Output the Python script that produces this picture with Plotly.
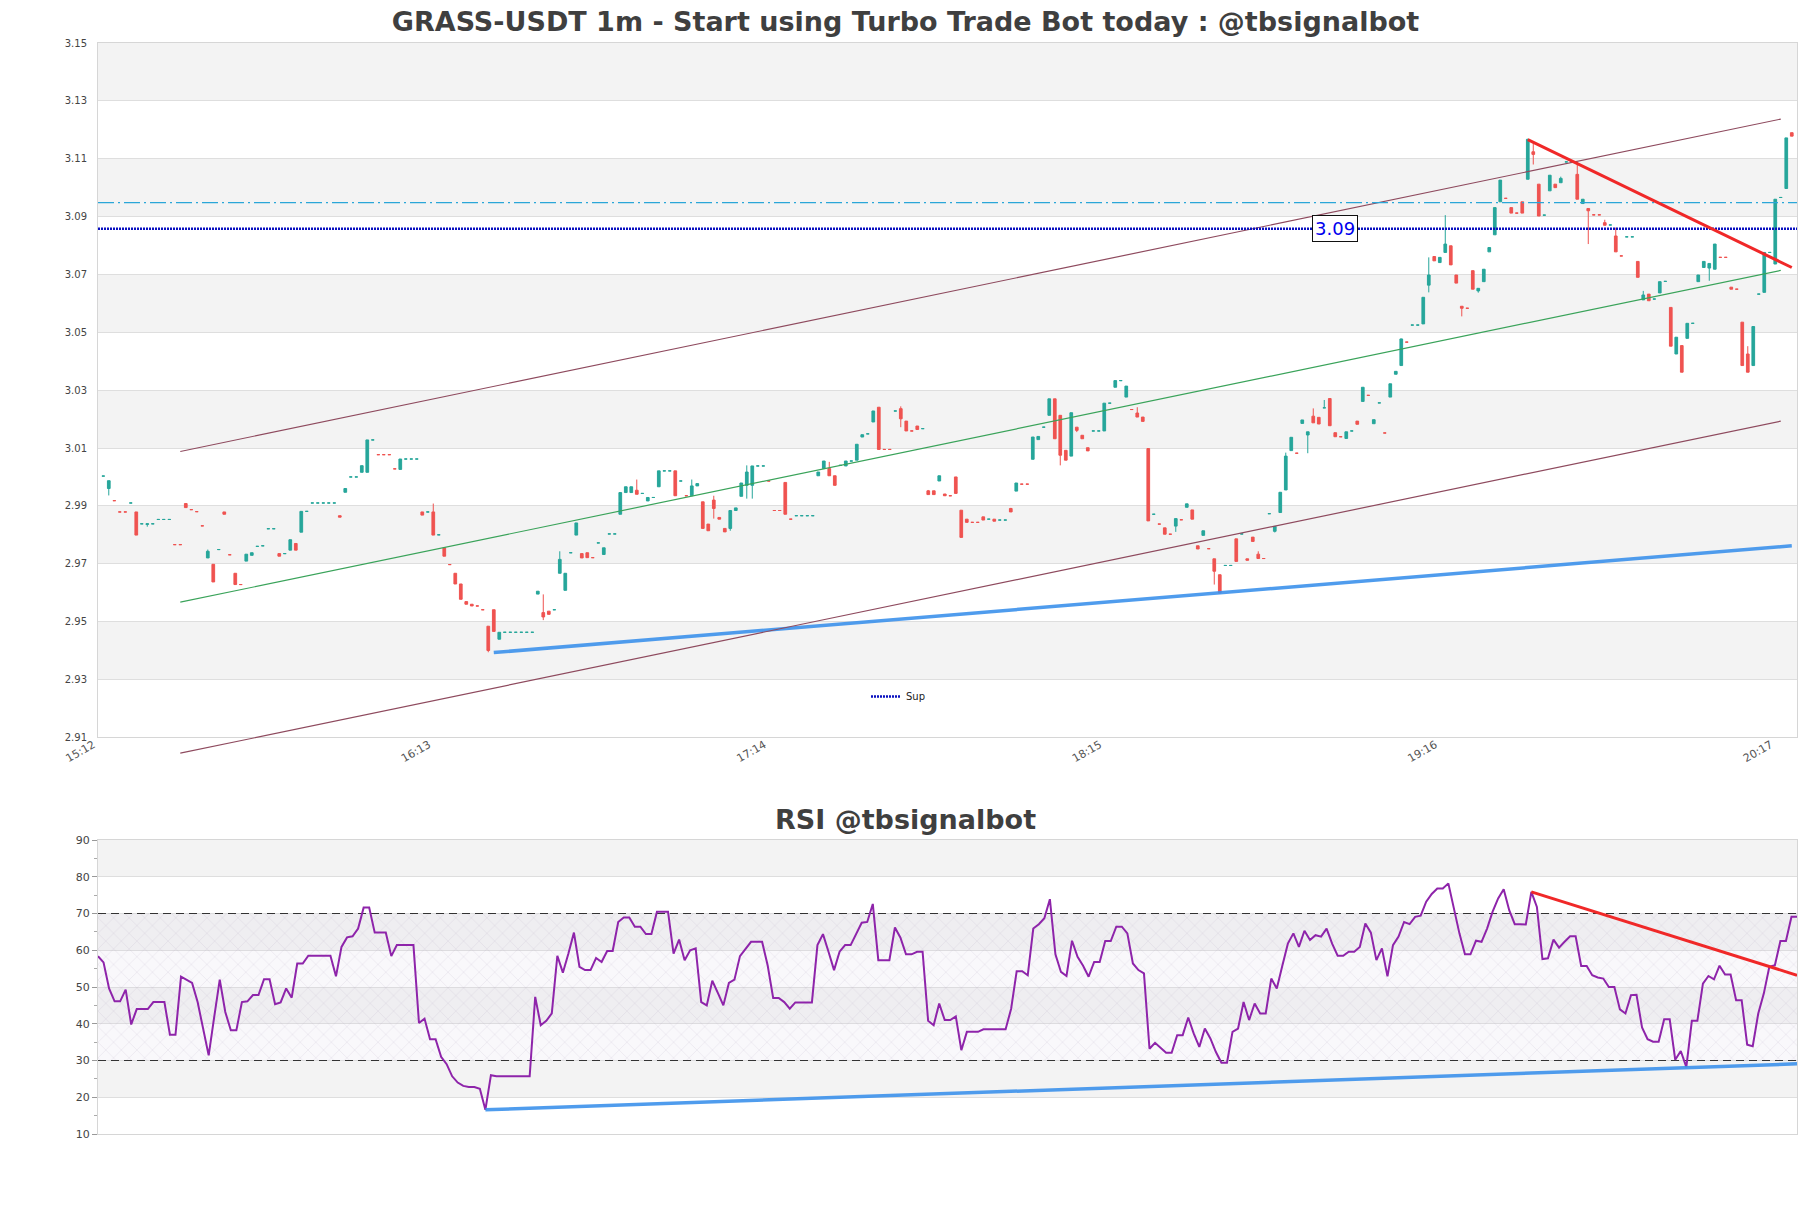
import plotly.graph_objects as go

# ---------------- data ----------------
tick_labels = ["15:12", "16:13", "17:14", "18:15", "19:16", "20:17"]
tick_positions = [0, 61, 122, 183, 244, 305]

opens = [
    3.0003, 2.9960, 2.9918, 2.9879, 2.9879, 2.9910, 2.9879, 2.9838, 2.9836, 2.9838,
    2.9853, 2.9853, 2.9853, 2.9766, 2.9766, 2.9908, 2.9887, 2.9880, 2.9831, 2.9720,
    2.9698, 2.9749, 2.9879, 2.9731, 2.9667, 2.9628, 2.9709, 2.9729, 2.9760, 2.9762,
    2.9821, 2.9821, 2.9735, 2.9735, 2.9747, 2.9770, 2.9809, 2.9881, 2.9910, 2.9910,
    2.9910, 2.9910, 2.9910, 2.9866, 2.9947, 3.0000, 3.0000, 3.0016, 3.0016, 3.0128,
    3.0077, 3.0077, 3.0077, 3.0028, 3.0026, 3.0062, 3.0062, 3.0062, 2.9879, 2.9879,
    2.9879, 2.9800, 2.9755, 2.9697, 2.9667, 2.9630, 2.9569, 2.9560, 2.9554, 2.9541,
    2.9484, 2.9541, 2.9439, 2.9463, 2.9463, 2.9463, 2.9463, 2.9463, 2.9463, 2.9595,
    2.9531, 2.9536, 2.9541, 2.9667, 2.9608, 2.9738, 2.9799, 2.9735, 2.9738, 2.9721,
    2.9772, 2.9732, 2.9803, 2.9803, 2.9871, 2.9946, 2.9946, 2.9954, 2.9943, 2.9917,
    2.9929, 2.9966, 3.0021, 3.0021, 3.0021, 2.9986, 2.9935, 2.9935, 2.9969, 2.9914,
    2.9837, 2.9920, 2.9860, 2.9822, 2.9822, 2.9884, 2.9933, 2.9971, 2.9971, 3.0038,
    3.0038, 2.9986, 2.9884, 2.9884, 2.9981, 2.9854, 2.9866, 2.9866, 2.9866, 2.9866,
    3.0004, 3.0029, 3.0029, 3.0004, 3.0040, 3.0038, 3.0055, 3.0058, 3.0138, 3.0149,
    3.0190, 3.0241, 3.0095, 3.0095, 3.0228, 3.0236, 3.0193, 3.0159, 3.0176, 3.0167,
    2.9952, 2.9952, 2.9986, 2.9941, 2.9935, 3.0000, 2.9885, 2.9854, 2.9843, 2.9843,
    2.9862, 2.9854, 2.9854, 2.9851, 2.9851, 2.9891, 2.9951, 2.9975, 2.9975, 3.0061,
    3.0129, 3.0172, 3.0213, 3.0270, 3.0213, 3.0092, 3.0072, 3.0172, 3.0144, 3.0101,
    3.0159, 3.0159, 3.0159, 3.0255, 3.0310, 3.0333, 3.0276, 3.0233, 3.0221, 3.0207,
    3.0098, 2.9871, 2.9837, 2.9824, 2.9802, 2.9830, 2.9852, 2.9895, 2.9886, 2.9762,
    2.9798, 2.9752, 2.9717, 2.9662, 2.9694, 2.9694, 2.9786, 2.9803, 2.9717, 2.9792,
    2.9733, 2.9718, 2.9873, 2.9812, 2.9877, 2.9955, 3.0091, 3.0082, 3.0185, 3.0145,
    3.0210, 3.0206, 3.0239, 3.0271, 3.0153, 3.0139, 3.0133, 3.0159, 3.0193, 3.0261,
    3.0282, 3.0184, 3.0256, 3.0152, 3.0276, 3.0355, 3.0385, 3.0466, 3.0525, 3.0525,
    3.0529, 3.0663, 3.0762, 3.0741, 3.0776, 3.0799, 3.0698, 3.0590, 3.0583, 3.0713,
    3.0643, 3.0675, 3.0778, 3.0837, 3.0951, 3.0963, 3.0931, 3.0912, 3.0951, 3.1029,
    3.1124, 3.1012, 3.0905, 3.0989, 3.1012, 3.1017, 3.1089, 3.1089, 3.1046, 3.0945,
    3.0928, 3.0906, 3.0906, 3.0879, 3.0871, 3.0833, 3.0764, 3.0830, 3.0830, 3.0745,
    3.0612, 3.0632, 3.0615, 3.0636, 3.0676, 3.0586, 3.0425, 3.0454, 3.0479, 3.0531,
    3.0675, 3.0724, 3.0722, 3.0718, 3.0759, 3.0759, 3.0656, 3.0649, 3.0535, 3.0425,
    3.0385, 3.0632, 3.0638, 3.0776, 3.0736, 3.0966, 3.0997, 3.1190,
]

highs = [
    3.0003, 2.9987, 2.9918, 2.9879, 2.9879, 2.9910, 2.9879, 2.9838, 2.9838, 2.9838,
    2.9853, 2.9853, 2.9853, 2.9766, 2.9766, 2.9908, 2.9887, 2.9880, 2.9831, 2.9749,
    2.9698, 2.9749, 2.9879, 2.9731, 2.9667, 2.9628, 2.9733, 2.9738, 2.9760, 2.9762,
    2.9821, 2.9821, 2.9735, 2.9735, 2.9783, 2.9770, 2.9881, 2.9881, 2.9910, 2.9910,
    2.9910, 2.9910, 2.9910, 2.9866, 2.9960, 3.0000, 3.0000, 3.0039, 3.0128, 3.0128,
    3.0077, 3.0077, 3.0077, 3.0028, 3.0062, 3.0062, 3.0062, 3.0062, 2.9879, 2.9879,
    2.9908, 2.9800, 2.9755, 2.9697, 2.9667, 2.9630, 2.9569, 2.9560, 2.9554, 2.9541,
    2.9484, 2.9541, 2.9463, 2.9463, 2.9463, 2.9463, 2.9463, 2.9463, 2.9463, 2.9605,
    2.9594, 2.9536, 2.9541, 2.9743, 2.9667, 2.9738, 2.9841, 2.9735, 2.9738, 2.9721,
    2.9772, 2.9755, 2.9803, 2.9803, 2.9946, 2.9966, 2.9966, 2.9991, 2.9943, 2.9929,
    2.9929, 3.0021, 3.0021, 3.0021, 3.0021, 2.9986, 2.9935, 2.9991, 2.9977, 2.9914,
    2.9837, 2.9935, 2.9860, 2.9822, 2.9884, 2.9893, 2.9979, 3.0040, 3.0038, 3.0038,
    3.0038, 2.9986, 2.9884, 2.9884, 2.9981, 2.9854, 2.9866, 2.9866, 2.9866, 2.9866,
    3.0017, 3.0055, 3.0052, 3.0004, 3.0040, 3.0055, 3.0055, 3.0113, 3.0146, 3.0149,
    3.0228, 3.0241, 3.0095, 3.0095, 3.0228, 3.0244, 3.0193, 3.0159, 3.0176, 3.0167,
    2.9955, 2.9952, 3.0004, 2.9941, 2.9935, 3.0000, 2.9885, 2.9854, 2.9843, 2.9843,
    2.9862, 2.9854, 2.9854, 2.9851, 2.9851, 2.9893, 2.9979, 2.9975, 2.9975, 3.0138,
    3.0140, 3.0172, 3.0270, 3.0270, 3.0213, 3.0092, 3.0222, 3.0172, 3.0144, 3.0101,
    3.0159, 3.0159, 3.0255, 3.0255, 3.0333, 3.0333, 3.0314, 3.0233, 3.0241, 3.0207,
    3.0098, 2.9871, 2.9837, 2.9824, 2.9802, 2.9856, 2.9852, 2.9907, 2.9886, 2.9762,
    2.9814, 2.9752, 2.9717, 2.9662, 2.9694, 2.9694, 2.9786, 2.9803, 2.9717, 2.9792,
    2.9743, 2.9718, 2.9873, 2.9829, 2.9947, 3.0084, 3.0137, 3.0082, 3.0197, 3.0156,
    3.0237, 3.0206, 3.0266, 3.0271, 3.0153, 3.0139, 3.0156, 3.0159, 3.0193, 3.0310,
    3.0282, 3.0198, 3.0256, 3.0152, 3.0322, 3.0365, 3.0478, 3.0466, 3.0525, 3.0525,
    3.0621, 3.0759, 3.0762, 3.0759, 3.0905, 3.0799, 3.0698, 3.0590, 3.0583, 3.0713,
    3.0652, 3.0718, 3.0793, 3.0931, 3.1026, 3.0963, 3.0931, 3.0912, 3.0951, 3.1169,
    3.1155, 3.1012, 3.0905, 3.1043, 3.1012, 3.1038, 3.1089, 3.1089, 3.1089, 3.0960,
    3.0928, 3.0906, 3.0906, 3.0889, 3.0871, 3.0862, 3.0764, 3.0830, 3.0830, 3.0745,
    3.0643, 3.0632, 3.0615, 3.0675, 3.0676, 3.0586, 3.0483, 3.0454, 3.0531, 3.0531,
    3.0698, 3.0745, 3.0738, 3.0805, 3.0759, 3.0759, 3.0656, 3.0649, 3.0535, 3.0452,
    3.0520, 3.0632, 3.0776, 3.0776, 3.0960, 3.0966, 3.1172, 3.1190,
]

lows = [
    3.0003, 2.9936, 2.9918, 2.9879, 2.9879, 2.9910, 2.9799, 2.9838, 2.9828, 2.9838,
    2.9853, 2.9853, 2.9853, 2.9766, 2.9766, 2.9894, 2.9887, 2.9880, 2.9831, 2.9720,
    2.9637, 2.9749, 2.9871, 2.9731, 2.9628, 2.9628, 2.9709, 2.9729, 2.9760, 2.9762,
    2.9821, 2.9821, 2.9726, 2.9735, 2.9747, 2.9747, 2.9809, 2.9881, 2.9910, 2.9910,
    2.9910, 2.9910, 2.9910, 2.9861, 2.9947, 3.0000, 3.0000, 3.0016, 3.0016, 3.0128,
    3.0077, 3.0077, 3.0077, 3.0028, 3.0026, 3.0062, 3.0062, 3.0062, 2.9868, 2.9879,
    2.9799, 2.9800, 2.9726, 2.9697, 2.9630, 2.9577, 2.9560, 2.9554, 2.9554, 2.9541,
    2.9394, 2.9466, 2.9439, 2.9463, 2.9463, 2.9463, 2.9463, 2.9463, 2.9463, 2.9595,
    2.9505, 2.9525, 2.9541, 2.9667, 2.9608, 2.9738, 2.9799, 2.9720, 2.9721, 2.9721,
    2.9772, 2.9732, 2.9803, 2.9803, 2.9871, 2.9946, 2.9946, 2.9940, 2.9943, 2.9917,
    2.9929, 2.9966, 3.0021, 3.0021, 2.9935, 2.9986, 2.9935, 2.9935, 2.9969, 2.9822,
    2.9814, 2.9856, 2.9854, 2.9810, 2.9814, 2.9884, 2.9933, 2.9925, 2.9925, 3.0038,
    3.0038, 2.9986, 2.9884, 2.9884, 2.9871, 2.9854, 2.9866, 2.9866, 2.9866, 2.9866,
    3.0004, 3.0029, 3.0004, 2.9971, 3.0040, 3.0038, 3.0055, 3.0058, 3.0138, 3.0149,
    3.0190, 3.0095, 3.0095, 3.0095, 3.0228, 3.0172, 3.0159, 3.0159, 3.0164, 3.0167,
    2.9939, 2.9939, 2.9986, 2.9935, 2.9935, 2.9943, 2.9791, 2.9843, 2.9843, 2.9843,
    2.9851, 2.9854, 2.9847, 2.9851, 2.9851, 2.9879, 2.9951, 2.9975, 2.9975, 3.0061,
    3.0129, 3.0172, 3.0213, 3.0132, 3.0040, 3.0058, 3.0072, 3.0155, 3.0132, 3.0090,
    3.0159, 3.0159, 3.0159, 3.0255, 3.0310, 3.0333, 3.0276, 3.0233, 3.0207, 3.0192,
    2.9848, 2.9871, 2.9837, 2.9802, 2.9802, 2.9810, 2.9852, 2.9895, 2.9854, 2.9751,
    2.9798, 2.9752, 2.9628, 2.9598, 2.9694, 2.9694, 2.9708, 2.9803, 2.9712, 2.9777,
    2.9718, 2.9718, 2.9873, 2.9808, 2.9877, 2.9955, 3.0091, 3.0082, 3.0185, 3.0082,
    3.0187, 3.0183, 3.0239, 3.0177, 3.0139, 3.0139, 3.0133, 3.0159, 3.0182, 3.0261,
    3.0282, 3.0184, 3.0256, 3.0152, 3.0276, 3.0355, 3.0385, 3.0466, 3.0525, 3.0525,
    3.0529, 3.0638, 3.0747, 3.0741, 3.0776, 3.0733, 3.0670, 3.0555, 3.0583, 3.0649,
    3.0637, 3.0675, 3.0778, 3.0837, 3.0951, 3.0963, 3.0912, 3.0912, 3.0912, 3.1029,
    3.1080, 3.0902, 3.0905, 3.0989, 3.1000, 3.1017, 3.1089, 3.1089, 3.0960, 3.0945,
    3.0805, 3.0906, 3.0906, 3.0870, 3.0871, 3.0778, 3.0764, 3.0830, 3.0830, 3.0690,
    3.0612, 3.0609, 3.0615, 3.0636, 3.0676, 3.0452, 3.0425, 3.0362, 3.0479, 3.0531,
    3.0675, 3.0724, 3.0678, 3.0718, 3.0759, 3.0759, 3.0649, 3.0649, 3.0385, 3.0362,
    3.0385, 3.0632, 3.0638, 3.0776, 3.0736, 3.0966, 3.0997, 3.1178,
]

closes = [
    3.0003, 2.9987, 2.9918, 2.9879, 2.9879, 2.9910, 2.9799, 2.9838, 2.9838, 2.9838,
    2.9853, 2.9853, 2.9853, 2.9766, 2.9766, 2.9894, 2.9887, 2.9880, 2.9831, 2.9743,
    2.9637, 2.9749, 2.9871, 2.9731, 2.9628, 2.9628, 2.9733, 2.9738, 2.9760, 2.9762,
    2.9821, 2.9821, 2.9726, 2.9735, 2.9783, 2.9747, 2.9881, 2.9881, 2.9910, 2.9910,
    2.9910, 2.9910, 2.9910, 2.9861, 2.9960, 3.0000, 3.0000, 3.0039, 3.0128, 3.0128,
    3.0077, 3.0077, 3.0077, 3.0028, 3.0062, 3.0062, 3.0062, 3.0062, 2.9868, 2.9879,
    2.9799, 2.9800, 2.9726, 2.9697, 2.9630, 2.9577, 2.9560, 2.9554, 2.9554, 2.9541,
    2.9400, 2.9466, 2.9463, 2.9463, 2.9463, 2.9463, 2.9463, 2.9463, 2.9463, 2.9605,
    2.9516, 2.9525, 2.9541, 2.9715, 2.9667, 2.9738, 2.9841, 2.9720, 2.9721, 2.9721,
    2.9772, 2.9755, 2.9803, 2.9803, 2.9946, 2.9966, 2.9966, 2.9940, 2.9943, 2.9929,
    2.9929, 3.0021, 3.0021, 3.0021, 2.9935, 2.9986, 2.9935, 2.9969, 2.9977, 2.9822,
    2.9814, 2.9891, 2.9854, 2.9810, 2.9884, 2.9893, 2.9979, 3.0017, 3.0038, 3.0038,
    3.0038, 2.9986, 2.9884, 2.9884, 2.9871, 2.9854, 2.9866, 2.9866, 2.9866, 2.9866,
    3.0017, 3.0055, 3.0004, 2.9971, 3.0040, 3.0055, 3.0055, 3.0113, 3.0146, 3.0149,
    3.0228, 3.0095, 3.0095, 3.0095, 3.0228, 3.0201, 3.0159, 3.0159, 3.0164, 3.0167,
    2.9939, 2.9939, 3.0004, 2.9935, 2.9935, 2.9943, 2.9791, 2.9843, 2.9843, 2.9843,
    2.9851, 2.9854, 2.9847, 2.9851, 2.9851, 2.9879, 2.9979, 2.9975, 2.9975, 3.0138,
    3.0140, 3.0172, 3.0270, 3.0132, 3.0075, 3.0058, 3.0222, 3.0161, 3.0132, 3.0090,
    3.0159, 3.0159, 3.0255, 3.0255, 3.0333, 3.0333, 3.0314, 3.0233, 3.0207, 3.0192,
    2.9848, 2.9871, 2.9837, 2.9802, 2.9802, 2.9856, 2.9852, 2.9907, 2.9854, 2.9751,
    2.9814, 2.9752, 2.9674, 2.9599, 2.9694, 2.9694, 2.9708, 2.9803, 2.9712, 2.9777,
    2.9718, 2.9718, 2.9873, 2.9829, 2.9947, 3.0072, 3.0137, 3.0082, 3.0197, 3.0156,
    3.0187, 3.0183, 3.0239, 3.0177, 3.0139, 3.0139, 3.0156, 3.0159, 3.0182, 3.0310,
    3.0282, 3.0198, 3.0256, 3.0152, 3.0322, 3.0365, 3.0477, 3.0466, 3.0525, 3.0525,
    3.0621, 3.0698, 3.0747, 3.0759, 3.0805, 3.0733, 3.0670, 3.0583, 3.0583, 3.0649,
    3.0652, 3.0718, 3.0793, 3.0931, 3.1026, 3.0963, 3.0912, 3.0912, 3.0912, 3.1167,
    3.1115, 3.0902, 3.0905, 3.1043, 3.1000, 3.1032, 3.1089, 3.1089, 3.0960, 3.0960,
    3.0920, 3.0906, 3.0906, 3.0870, 3.0871, 3.0778, 3.0764, 3.0830, 3.0830, 3.0690,
    3.0629, 3.0609, 3.0615, 3.0675, 3.0676, 3.0452, 3.0483, 3.0362, 3.0531, 3.0531,
    3.0698, 3.0745, 3.0738, 3.0805, 3.0759, 3.0759, 3.0649, 3.0649, 3.0385, 3.0362,
    3.0520, 3.0632, 3.0776, 3.0776, 3.0960, 3.0966, 3.1172, 3.1178,
]

rsi_values = [
    58.4, 56.7, 49.6, 46.1, 46.1, 49.3, 39.8, 44.0, 44.0, 44.0,
    45.9, 45.9, 45.9, 37.0, 37.0, 52.8, 52.0, 51.1, 45.9, 38.2,
    31.4, 41.9, 52.0, 43.2, 38.2, 38.2, 45.9, 46.1, 47.8, 47.8,
    52.1, 52.1, 45.3, 45.8, 49.6, 47.1, 56.4, 56.4, 58.5, 58.5,
    58.5, 58.5, 58.5, 52.9, 60.9, 63.5, 63.8, 65.9, 71.6, 71.6,
    64.8, 64.8, 64.8, 58.4, 61.4, 61.4, 61.4, 61.4, 40.2, 41.4,
    35.8, 35.8, 31.0, 29.0, 25.7, 24.0, 23.1, 22.8, 22.8, 22.3,
    16.6, 26.0, 25.7, 25.7, 25.7, 25.7, 25.7, 25.7, 25.7, 47.3,
    39.6, 40.8, 42.8, 58.5, 53.9, 59.1, 64.8, 55.5, 54.6, 54.6,
    57.9, 56.8, 59.8, 59.8, 67.7, 68.9, 68.9, 66.4, 66.4, 64.4,
    64.4, 70.5, 70.5, 70.5, 59.1, 62.9, 57.3, 60.0, 60.5, 45.9,
    45.0, 51.7, 48.4, 45.0, 51.1, 52.0, 58.4, 60.5, 62.3, 62.3,
    62.3, 55.9, 47.0, 47.0, 45.9, 44.1, 45.8, 45.8, 45.8, 45.8,
    61.4, 64.4, 59.6, 54.6, 59.6, 61.4, 61.4, 64.6, 67.5, 67.7,
    72.6, 57.3, 57.3, 57.3, 66.2, 63.4, 58.9, 58.9, 59.6, 59.6,
    40.8, 39.6, 45.5, 41.0, 41.0, 42.0, 32.8, 37.8, 37.8, 37.8,
    38.5, 38.5, 38.5, 38.5, 38.5, 44.1, 54.3, 54.3, 53.2, 65.9,
    67.1, 68.7, 73.9, 58.9, 54.1, 53.0, 62.6, 58.2, 55.8, 52.8,
    56.8, 56.8, 62.5, 62.5, 66.4, 66.4, 64.6, 56.4, 54.6, 53.7,
    33.2, 34.8, 33.5, 32.1, 32.1, 36.9, 36.9, 41.7, 37.3, 33.7,
    38.7, 36.0, 32.3, 29.4, 29.4, 37.8, 38.7, 45.9, 41.0, 45.5,
    42.8, 42.8, 52.3, 49.6, 55.8, 61.8, 64.6, 60.9, 65.3, 62.8,
    64.1, 63.7, 65.9, 61.8, 58.5, 58.5, 59.6, 59.6, 60.9, 67.3,
    64.8, 57.3, 60.5, 52.9, 61.4, 63.7, 67.7, 67.1, 69.1, 69.4,
    73.2, 75.3, 76.8, 76.8, 78.2, 70.9, 64.6, 58.9, 58.9, 62.6,
    62.3, 65.9, 70.5, 74.1, 76.6, 70.9, 67.1, 67.1, 67.0, 75.9,
    71.8, 57.6, 57.8, 62.9, 60.7, 62.3, 63.8, 63.8, 55.7, 55.7,
    53.2, 52.6, 52.3, 50.0, 50.0, 43.9, 42.8, 47.8, 47.9, 39.0,
    35.8, 35.1, 35.1, 41.2, 41.2, 30.2, 32.6, 28.2, 40.8, 40.8,
    50.9, 53.0, 52.1, 55.8, 53.4, 53.4, 46.4, 46.4, 34.3, 33.9,
    42.8, 48.2, 55.5, 55.9, 62.5, 62.5, 69.1, 69.1,
]

# trend / channel lines: (start index, end index), (start value, end value)
channel_x = [14, 305]
channel_upper = [3.0088, 3.1237]
channel_mid = [2.9567, 3.0714]
channel_lower = [2.9045, 3.0193]
support_x = [71, 307]
support_y = [2.9393, 2.9762]
resist_x = [259, 307]
resist_y = [3.1166, 3.0724]
sup_level = 3.0858
dash_level = 3.0948
sup_label = "3.09"
sup_label_x = 224

rsi_support_x = [70, 307]
rsi_support_y = [16.6, 29.1]
rsi_resist_x = [259, 307]
rsi_resist_y = [75.9, 53.2]

price_ticks = [2.91, 2.93, 2.95, 2.97, 2.99, 3.01, 3.03, 3.05, 3.07, 3.09, 3.11, 3.13, 3.15]
rsi_ticks = [10, 20, 30, 40, 50, 60, 70, 80, 90]

# ---------------- styling ----------------
GREEN = "#26a69a"
RED = "#ef5350"
BAND = "#f3f3f3"
GRID = "#dedede"
AXLINE = "#d6d6d6"
CHANNEL = "#8e4a5e"
FONT = "DejaVu Sans"
TXT = "#444444"

n = len(closes)
idx = list(range(n))
x_lo, x_hi = -0.96, 307.95
p_lo, p_hi = price_ticks[0], price_ticks[-1]

W, H = 1811, 1208
ml, mr, mt, mb = 98, 14, 43, 74
ph = H - mt - mb


def pyf(px):
    return (H - mb - px) / ph


price_dom = [pyf(737.3), 1.0]


def price_to_paper(p):
    # position on the paper of a price, through the price axis' domain and range
    return price_dom[0] + (p - p_lo) / (p_hi - p_lo) * (price_dom[1] - price_dom[0])


fig = go.Figure()

fig.add_trace(go.Candlestick(
    x=idx, open=opens, high=highs, low=lows, close=closes,
    increasing=dict(line=dict(color=GREEN, width=1), fillcolor=GREEN),
    decreasing=dict(line=dict(color=RED, width=1), fillcolor=RED),
    whiskerwidth=0, showlegend=False, hoverinfo="skip",
    xaxis="x", yaxis="y"))

for yy, col in [(channel_upper, CHANNEL), (channel_mid, "#3aa35a")]:
    fig.add_trace(go.Scatter(x=channel_x, y=yy, mode="lines", line=dict(color=col, width=1.2),
                             showlegend=False, hoverinfo="skip", xaxis="x", yaxis="y"))

fig.add_trace(go.Scatter(x=[x_lo, x_hi], y=[dash_level, dash_level], mode="lines",
                         line=dict(color="#2aa6d8", width=1.2, dash="16px,4px,2px,4px"),
                         showlegend=False, hoverinfo="skip", xaxis="x", yaxis="y"))
fig.add_trace(go.Scatter(x=[x_lo, x_hi], y=[sup_level, sup_level], mode="lines", name="Sup",
                         line=dict(color="#0a10c0", width=2.5, dash="2px,1px"),
                         showlegend=True, hoverinfo="skip", xaxis="x", yaxis="y"))
fig.add_trace(go.Scatter(x=support_x, y=support_y, mode="lines",
                         line=dict(color="rgba(60,145,235,0.9)", width=3.5),
                         showlegend=False, hoverinfo="skip", xaxis="x", yaxis="y"))
fig.add_trace(go.Scatter(x=resist_x, y=resist_y, mode="lines",
                         line=dict(color="#f02828", width=3),
                         showlegend=False, hoverinfo="skip", xaxis="x", yaxis="y"))

# RSI panel
fig.add_trace(go.Scatter(x=[0, 307, 307, 0, 0], y=[30, 30, 70, 70, 30], mode="lines",
                         fill="toself", fillcolor="rgba(215,205,230,0.14)",
                         fillpattern=dict(shape="x", size=11, solidity=0.1,
                                          fgcolor="rgba(180,170,200,0.6)",
                                          fillmode="overlay"),
                         line=dict(width=0), showlegend=False, hoverinfo="skip",
                         xaxis="x2", yaxis="y2"))
for lvl in (30, 70):
    fig.add_trace(go.Scatter(x=[0, 307], y=[lvl, lvl], mode="lines",
                             line=dict(color="#333333", width=1, dash="8px,5px"),
                             showlegend=False, hoverinfo="skip", xaxis="x2", yaxis="y2"))
fig.add_trace(go.Scatter(x=idx, y=rsi_values, mode="lines",
                         line=dict(color="#8e24aa", width=2),
                         showlegend=False, hoverinfo="skip", xaxis="x2", yaxis="y2"))
fig.add_trace(go.Scatter(x=rsi_support_x, y=rsi_support_y, mode="lines",
                         line=dict(color="rgba(60,145,235,0.9)", width=3.5),
                         showlegend=False, hoverinfo="skip", xaxis="x2", yaxis="y2"))
fig.add_trace(go.Scatter(x=rsi_resist_x, y=rsi_resist_y, mode="lines",
                         line=dict(color="#f02828", width=3),
                         showlegend=False, hoverinfo="skip", xaxis="x2", yaxis="y2"))

# background bands
shapes = []
for lo in [2.93, 2.97, 3.01, 3.05, 3.09, 3.13]:
    shapes.append(dict(type="rect", xref="x domain", yref="y", x0=0, x1=1, y0=lo, y1=lo + 0.02,
                       fillcolor=BAND, line=dict(width=0), layer="below"))
for lo in [20, 40, 60, 80]:
    shapes.append(dict(type="rect", xref="x2 domain", yref="y2", x0=0, x1=1, y0=lo, y1=lo + 10,
                       fillcolor=BAND, line=dict(width=0), layer="below"))
# lower channel line runs below the price axis, so it is not clipped vertically
shapes.append(dict(type="line", xref="x", yref="paper",
                   x0=channel_x[0], x1=channel_x[1],
                   y0=price_to_paper(channel_lower[0]), y1=price_to_paper(channel_lower[1]),
                   line=dict(color=CHANNEL, width=1.2), layer="above"))

fig.update_layout(
    width=W, height=H,
    margin=dict(l=ml, r=mr, t=mt, b=mb, autoexpand=False),
    paper_bgcolor="white", plot_bgcolor="white",
    font=dict(family=FONT, color=TXT),
    title=dict(text="GRASS-USDT 1m - Start using Turbo Trade Bot today : @tbsignalbot",
               x=0.5, xanchor="center", y=1 - 22 / H, yanchor="middle", yref="container",
               font=dict(family=FONT, size=27, color="#3f3f3f", weight="bold")),
    shapes=shapes,
    showlegend=True,
    legend=dict(x=(866 - ml) / (W - ml - mr), y=pyf(682), xanchor="left", yanchor="top",
                bgcolor="rgba(0,0,0,0)", font=dict(family=FONT, size=10, color="#222")),
    xaxis=dict(domain=[0, 1], anchor="y", range=[x_lo, x_hi], rangeslider=dict(visible=False),
               tickvals=tick_positions, ticktext=tick_labels, tickangle=-30,
               ticklabelshift=-10, ticklabelstandoff=-4,
               tickfont=dict(family=FONT, size=11, color="#555"),
               showgrid=False, zeroline=False, showline=True, linecolor=AXLINE, mirror=True,
               ticks=""),
    yaxis=dict(domain=price_dom, anchor="x", range=[p_lo, p_hi],
               tickvals=price_ticks, ticktext=[f"{v:.2f}" for v in price_ticks],
               tickfont=dict(family=FONT, size=10, color="#444"),
               showgrid=True, gridcolor=GRID, gridwidth=1, zeroline=False,
               showline=True, linecolor=AXLINE, mirror=True,
               ticks="outside", ticklen=8, tickcolor="rgba(0,0,0,0)"),
    xaxis2=dict(domain=[0, 1], anchor="y2", range=[0, 307], showticklabels=False,
                showgrid=False, zeroline=False, showline=True, linecolor=AXLINE, mirror=True,
                ticks=""),
    yaxis2=dict(domain=[0, pyf(840)], anchor="x2", range=[10, 90], tickvals=rsi_ticks,
                tickfont=dict(family=FONT, size=11, color="#444"),
                showgrid=True, gridcolor=GRID, gridwidth=1, zeroline=False,
                showline=True, linecolor=AXLINE, mirror=True,
                ticks="outside", ticklen=5, tickcolor="#999",
                minor=dict(dtick=5, ticks="outside", ticklen=3, tickcolor="#aaa", showgrid=False)),
    annotations=[
        dict(text="RSI @tbsignalbot", x=(W / 2 - ml) / (W - ml - mr), xref="paper",
             y=pyf(819), yref="paper",
             xanchor="center", yanchor="middle", showarrow=False,
             font=dict(family=FONT, size=27, color="#3f3f3f", weight="bold")),
        dict(text=sup_label, x=sup_label_x, y=sup_level, xref="x", yref="y",
             showarrow=False, bgcolor="white", bordercolor="#111", borderwidth=1, borderpad=2,
             font=dict(family=FONT, size=18, color="#0000ee")),
    ],
)

fig.write_html("out.html")
